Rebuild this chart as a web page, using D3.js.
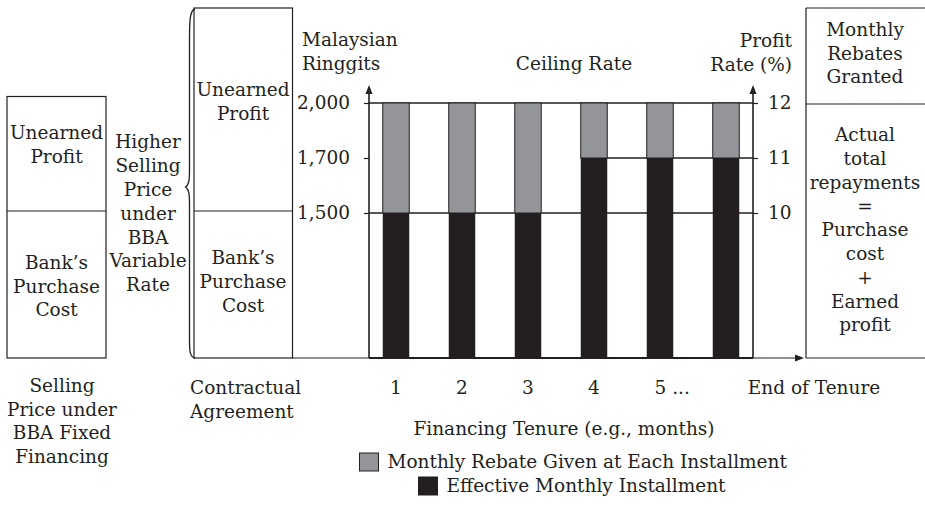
<!DOCTYPE html>
<html>
<head>
<meta charset="utf-8">
<script src="https://cdn.jsdelivr.net/npm/d3@7"></script>
<style>
  html, body { margin: 0; padding: 0; background: #fff; }
  svg { display: block; }
  text { font-family: "DejaVu Serif", "Liberation Serif", serif; font-size: 18.5px; fill: #231f20; }
</style>
</head>
<body>
<svg id="chart" width="925" height="514"></svg>
<script>
// ---------- data ----------
const categories = ["1", "2", "3", "4", "5", "6"];
const tickLabels = ["1", "2", "3", "4", "5 ...", ""];
const effectiveInstallment = [1500, 1500, 1500, 1700, 1700, 1700];
const ceilingRate = [2000, 2000, 2000, 2000, 2000, 2000];
const monthlyRebate = ceilingRate.map((c, i) => c - effectiveInstallment[i]);
const ringgitTicks = [1500, 1700, 2000];
const profitRateTicks = [10, 11, 12];
const legendLabels = ["Monthly Rebate Given at Each Installment", "Effective Monthly Installment"];

const INK = "#231f20", GREY = "#939598";
const FONT = "18.5px";
const svg = d3.select("#chart");

// ---------- scales ----------
const x = d3.scalePoint().domain(categories).range([396, 726]);
const barW = 26.5;
const y = d3.scaleLinear().domain([0, 1500, 1700, 2000]).range([358, 213, 158, 103]);
const yR = d3.scaleLinear().domain([10, 11, 12]).range([213, 158, 103]);
const axL = 369, axR = 753, base = 358;

// helper for multi-line text
function lines(x0, y0, step, arr, anchor) {
  const t = svg.append("text").attr("text-anchor", anchor || "middle");
  arr.forEach((s, i) => t.append("tspan").attr("x", x0).attr("y", y0 + i * step).attr("dy", "0.35em").text(s));
  return t;
}

// ---------- left box: BBA fixed ----------
const g0 = svg.append("g").attr("fill", "none").attr("stroke", INK).attr("stroke-width", 1.2);
g0.append("rect").attr("x", 7).attr("y", 96.5).attr("width", 99).attr("height", 261.5);
g0.append("line").attr("x1", 7).attr("x2", 106).attr("y1", 211).attr("y2", 211);
lines(56.5, 133, 23.5, ["Unearned", "Profit"]);
lines(56.5, 263, 23.5, ["Bank\u2019s", "Purchase", "Cost"]);
lines(62, 386, 23.5, ["Selling", "Price under", "BBA Fixed", "Financing"]);

lines(148, 142, 23.8, ["Higher", "Selling", "Price", "under", "BBA", "Variable", "Rate"]);

// brace
svg.append("path")
  .attr("d", "M195,9 C190,10 189.5,20 189.5,40 L189.5,170 C189.5,182 188.5,185 185.5,187 C188.5,189 189.5,192 189.5,204 L189.5,340 C189.5,352 190,357 195,358")
  .attr("fill", "none").attr("stroke", INK).attr("stroke-width", 1.3);

// ---------- middle box: contractual ----------
const g1 = svg.append("g").attr("fill", "none").attr("stroke", INK).attr("stroke-width", 1.2);
g1.append("rect").attr("x", 194).attr("y", 8).attr("width", 98.5).attr("height", 350);
g1.append("line").attr("x1", 194).attr("x2", 292.5).attr("y1", 211).attr("y2", 211);
lines(243, 90, 23.5, ["Unearned", "Profit"]);
lines(243, 258, 24, ["Bank\u2019s", "Purchase", "Cost"]);
lines(190, 388, 23.5, ["Contractual", "Agreement"], "start");

// ---------- right box ----------
const g2 = svg.append("g").attr("fill", "none").attr("stroke", INK).attr("stroke-width", 1.2);
g2.append("line").attr("x1", 806).attr("x2", 925).attr("y1", 8).attr("y2", 8);
g2.append("line").attr("x1", 806).attr("x2", 925).attr("y1", 104).attr("y2", 104);
g2.append("line").attr("x1", 806).attr("x2", 925).attr("y1", base).attr("y2", base);
g2.append("line").attr("x1", 806).attr("x2", 806).attr("y1", 8).attr("y2", base);
lines(865, 30, 23.5, ["Monthly", "Rebates", "Granted"]);
lines(865, 135, 23.75, ["Actual", "total", "repayments", "=", "Purchase", "cost", "+", "Earned", "profit"]);

// ---------- level lines ----------
const levels = ringgitTicks.map(v => {
  const idx = effectiveInstallment.findIndex(e => e >= v);
  const startX = (v === 1700) ? x(categories[idx]) - barW / 2 : axL;
  return { v, startX };
});
svg.append("g").selectAll("line").data(levels).join("line")
  .attr("x1", d => d.startX).attr("x2", axR)
  .attr("y1", d => y(d.v)).attr("y2", d => y(d.v))
  .attr("stroke", INK).attr("stroke-width", 1.3);

// ---------- bars ----------
const bars = svg.append("g");
bars.selectAll("rect.rebate").data(categories).join("rect").attr("class", "rebate")
  .attr("x", d => x(d) - barW / 2).attr("width", barW)
  .attr("y", (d, i) => y(effectiveInstallment[i] + monthlyRebate[i]))
  .attr("height", (d, i) => y(effectiveInstallment[i]) - y(effectiveInstallment[i] + monthlyRebate[i]))
  .attr("fill", GREY).attr("stroke", INK).attr("stroke-width", 1);
bars.selectAll("rect.eff").data(categories).join("rect").attr("class", "eff")
  .attr("x", d => x(d) - barW / 2).attr("width", barW)
  .attr("y", (d, i) => y(effectiveInstallment[i]))
  .attr("height", (d, i) => y(0) - y(effectiveInstallment[i]))
  .attr("fill", INK);

// ---------- axes ----------
const yAxis = svg.append("g").attr("transform", `translate(${axL},0)`)
  .call(d3.axisLeft(y).tickValues(ringgitTicks).tickSize(5).tickPadding(14).tickFormat(d3.format(",")));
yAxis.select(".domain").remove();
yAxis.selectAll("line").attr("stroke", INK).attr("stroke-width", 1.2);
yAxis.selectAll("text").style("font-family", "DejaVu Serif").style("font-size", FONT).attr("fill", INK);

const yAxisR = svg.append("g").attr("transform", `translate(${axR},0)`)
  .call(d3.axisRight(yR).tickValues(profitRateTicks).tickSize(5).tickPadding(10).tickFormat(d3.format("d")));
yAxisR.select(".domain").remove();
yAxisR.selectAll("line").attr("stroke", INK).attr("stroke-width", 1.2);
yAxisR.selectAll("text").style("font-family", "DejaVu Serif").style("font-size", FONT).attr("fill", INK);

// axis lines with arrows
const ax = svg.append("g").attr("stroke", INK);
ax.append("line").attr("x1", axL).attr("x2", axL).attr("y1", base).attr("y2", 92).attr("stroke-width", 1.6);
ax.append("line").attr("x1", axR).attr("x2", axR).attr("y1", base).attr("y2", 92).attr("stroke-width", 1.6);
ax.append("line").attr("x1", axL).attr("x2", axR).attr("y1", base).attr("y2", base).attr("stroke-width", 2);
ax.append("line").attr("x1", 292).attr("x2", axL).attr("y1", base).attr("y2", base).attr("stroke-width", 1.2);
ax.append("line").attr("x1", axR).attr("x2", 796).attr("y1", base).attr("y2", base).attr("stroke-width", 1.2);
const arrows = svg.append("g").attr("fill", INK);
arrows.append("path").attr("d", `M${axL},85 L${axL - 3.5},94 L${axL + 3.5},94 Z`);
arrows.append("path").attr("d", `M${axR},85 L${axR - 3.5},94 L${axR + 3.5},94 Z`);
arrows.append("path").attr("d", `M804,${base} L795,${base - 3.5} L795,${base + 3.5} Z`);

// x tick labels
svg.append("g").selectAll("text").data(categories).join("text")
  .attr("x", (d, i) => x(d) - (tickLabels[i].length > 1 ? 5.5 : 0))
  .attr("y", 388).attr("dy", "0.35em")
  .attr("text-anchor", (d, i) => tickLabels[i].length > 1 ? "start" : "middle")
  .text((d, i) => tickLabels[i]);
svg.append("text").attr("x", 814).attr("y", 388).attr("dy", "0.35em").attr("text-anchor", "middle").text("End of Tenure");
svg.append("text").attr("x", 564).attr("y", 429).attr("dy", "0.35em").attr("text-anchor", "middle").text("Financing Tenure (e.g., months)");

// top titles
lines(302, 40, 23.5, ["Malaysian", "Ringgits"], "start");
svg.append("text").attr("x", 574).attr("y", 64).attr("dy", "0.35em").attr("text-anchor", "middle").text("Ceiling Rate");
lines(792, 41, 23.5, ["Profit", "Rate (%)"], "end");

// ---------- legend ----------
const legend = svg.append("g");
const legendItems = [
  { label: legendLabels[0], fill: GREY, x: 359.5, y: 453 },
  { label: legendLabels[1], fill: INK, x: 418.5, y: 477 }
];
legend.selectAll("rect").data(legendItems).join("rect")
  .attr("x", d => d.x).attr("y", d => d.y).attr("width", 19).attr("height", 18)
  .attr("fill", d => d.fill).attr("stroke", INK).attr("stroke-width", 1);
legend.selectAll("text").data(legendItems).join("text")
  .attr("x", d => d.x + 28).attr("y", d => d.y + 9).attr("dy", "0.35em")
  .text(d => d.label);
</script>
</body>
</html>
